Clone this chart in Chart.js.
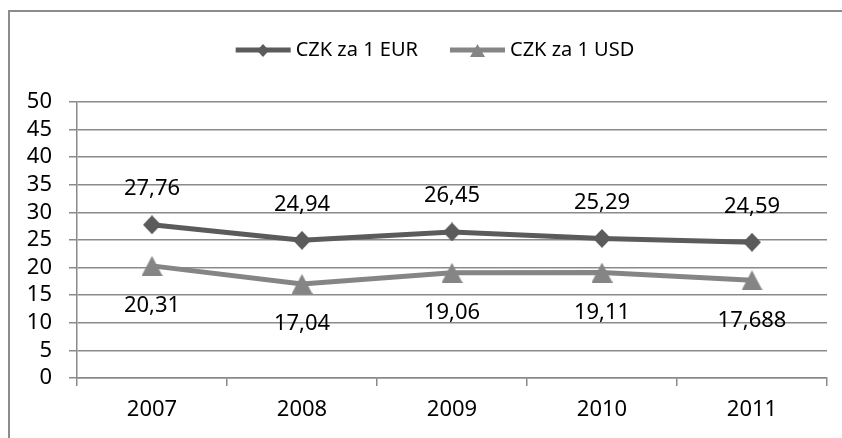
<!DOCTYPE html>
<html>
<head>
<meta charset="utf-8">
<script src="https://cdn.jsdelivr.net/npm/chart.js@4.4.1/dist/chart.umd.min.js"></script>
<style>
  body { margin: 0; background: #fff; overflow: hidden; }
  #wrap { width: 842px; height: 438px; }
</style>
</head>
<body>
<div id="wrap"><canvas id="chart" width="842" height="438"></canvas></div>
<script>
// data
const years = ['2007', '2008', '2009', '2010', '2011'];
const eurValues = [27.76, 24.94, 26.45, 25.29, 24.59];
const usdValues = [20.31, 17.04, 19.06, 19.11, 17.688];
const eurLabels = ['27,76', '24,94', '26,45', '25,29', '24,59'];
const usdLabels = ['20,31', '17,04', '19,06', '19,11', '17,688'];
const seriesNames = ['CZK za 1 EUR', 'CZK za 1 USD'];

const FONT = '"Noto Sans", "Open Sans", sans-serif';
const gridColor = '#8a8a8a';
const eurColor = '#5b5b5b';
const usdColor = '#858585';

// marker images centred on their box, like Excel does
function makeMarker(shape, w, h, color) {
    const c = document.createElement('canvas');
    c.width = w;
    c.height = h;
    const g = c.getContext('2d');
    g.fillStyle = color;
    g.beginPath();
    if (shape === 'diamond') {
        g.moveTo(w / 2, 0);
        g.lineTo(w, h / 2);
        g.lineTo(w / 2, h);
        g.lineTo(0, h / 2);
    } else {
        g.moveTo(w / 2, 0);
        g.lineTo(w, h);
        g.lineTo(0, h);
    }
    g.closePath();
    g.fill();
    return c;
}
const eurMarker = makeMarker('diamond', 18, 19, eurColor);
const usdMarker = makeMarker('triangle', 21, 20, usdColor);
const legendMarkers = [makeMarker('diamond', 12, 13, eurColor), makeMarker('triangle', 15, 13, usdColor)];

// chart border: only the top and left edges fall inside the picture
const framePlugin = {
    id: 'frame',
    beforeDraw(chart) {
        const ctx = chart.ctx;
        ctx.save();
        ctx.strokeStyle = '#8c8c8c';
        ctx.lineWidth = 2;
        ctx.beginPath();
        ctx.moveTo(9, 440);
        ctx.lineTo(9, 11);
        ctx.lineTo(842, 11);
        ctx.stroke();
        ctx.restore();
    }
};

// value labels: EUR above the points, USD below
const valueLabels = {
    id: 'valueLabels',
    afterDatasetsDraw(chart) {
        const ctx = chart.ctx;
        ctx.save();
        ctx.font = '22px ' + FONT;
        ctx.fillStyle = '#000';
        ctx.textAlign = 'center';
        ctx.textBaseline = 'middle';
        const texts = [eurLabels, usdLabels];
        const offsets = [-36, 40];
        chart.data.datasets.forEach((ds, i) => {
            chart.getDatasetMeta(i).data.forEach((pt, j) => {
                ctx.fillText(texts[i][j], pt.x, pt.y + offsets[i]);
            });
        });
        ctx.restore();
    }
};

// legend with a short line and the marker in the middle
const lineLegend = {
    id: 'lineLegend',
    afterDraw(chart) {
        const ctx = chart.ctx;
        ctx.save();
        ctx.font = '20px ' + FONT;
        ctx.textBaseline = 'middle';
        const lineLen = 55, gap = 5, spacing = 32, y = 50;
        const widths = seriesNames.map(n => lineLen + gap + ctx.measureText(n).width);
        const total = widths.reduce((a, b) => a + b, 0) + spacing;
        let x = (842 - total) / 2 + 14;
        chart.data.datasets.forEach((ds, i) => {
            ctx.strokeStyle = ds.borderColor;
            ctx.lineWidth = 5;
            ctx.beginPath();
            ctx.moveTo(x, y);
            ctx.lineTo(x + lineLen, y);
            ctx.stroke();
            const m = legendMarkers[i];
            ctx.drawImage(m, Math.round(x + lineLen / 2 - m.width / 2), Math.round(y - m.height / 2));
            ctx.fillStyle = '#000';
            ctx.fillText(seriesNames[i], x + lineLen + gap, y);
            x += widths[i] + spacing;
        });
        ctx.restore();
    }
};

new Chart(document.getElementById('chart'), {
    type: 'line',
    data: {
        labels: years,
        datasets: [
            {
                label: seriesNames[0],
                data: eurValues,
                borderColor: eurColor,
                backgroundColor: eurColor,
                borderWidth: 5,
                pointStyle: eurMarker,
                tension: 0
            },
            {
                label: seriesNames[1],
                data: usdValues,
                borderColor: usdColor,
                backgroundColor: usdColor,
                borderWidth: 5,
                pointStyle: usdMarker,
                tension: 0
            }
        ]
    },
    options: {
        responsive: false,
        animation: false,
        layout: { padding: { top: 102, right: 15, left: 0, bottom: 0 } },
        plugins: {
            legend: { display: false },
            tooltip: { enabled: false }
        },
        scales: {
            x: {
                offset: true,
                grid: {
                    offset: true,
                    drawOnChartArea: false,
                    drawTicks: true,
                    tickLength: 8,
                    color: gridColor,
                    lineWidth: 1.5
                },
                border: { color: gridColor, width: 1.5 },
                ticks: {
                    color: '#000',
                    font: { family: FONT, size: 22 },
                    padding: 11,
                    maxRotation: 0
                },
                afterFit(scale) { scale.height = 60; }
            },
            y: {
                min: 0,
                max: 50,
                ticks: {
                    stepSize: 5,
                    autoSkip: false,
                    color: '#000',
                    font: { family: FONT, size: 22, lineHeight: 1 },
                    padding: 17
                },
                grid: {
                    color: gridColor,
                    lineWidth: 1.5,
                    tickLength: 8
                },
                border: { color: gridColor, width: 1.5 },
                afterFit(scale) { scale.width = 77; }
            }
        }
    },
    plugins: [framePlugin, valueLabels, lineLegend]
});
</script>
</body>
</html>
